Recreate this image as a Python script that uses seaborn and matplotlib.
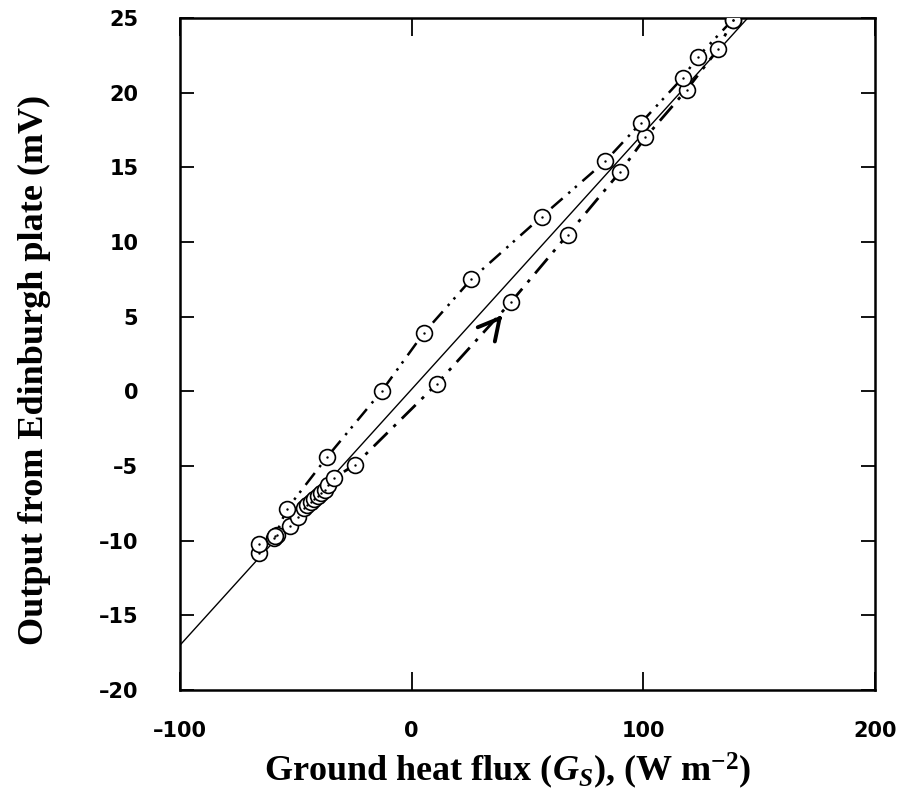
import matplotlib
matplotlib.use("Agg")
import matplotlib.pyplot as plt
import seaborn as sns
import numpy as np
import pandas as pd

# ---- data ----
# rising branch (dashed, with arrow)
rise_x = [-66.0, -59.5, -58.0, -52.5, -49.0, -46.5, -45.0, -43.5, -42.0, -40.5,
          -39.0, -37.5, -36.0, -33.5, -24.3, 10.9, 43.0, 67.4, 90.0, 100.9,
          118.7, 132.2, 138.7]
rise_y = [-10.8, -9.8, -9.6, -9.0, -8.4, -7.8, -7.6, -7.4, -7.2, -7.0,
          -6.8, -6.6, -6.3, -5.8, -4.9, 0.5, 6.0, 10.5, 14.7, 17.0,
          20.2, 22.9, 24.9]
# falling branch (dash-dot)
fall_x = [138.7, 123.5, 117.0, 99.1, 83.5, 56.1, 25.7, 5.2, -13.0, -36.5,
          -53.9, -59.0, -65.7]
fall_y = [24.9, 22.4, 21.0, 18.0, 15.4, 11.7, 7.5, 3.9, 0.0, -4.4,
          -7.9, -9.7, -10.2]
# regression line
fit_slope = 0.1714
fit_intercept = 0.14
fit_x = [-100, 150]

xticks = [-100, 0, 100, 200]
yticks = [-20, -15, -10, -5, 0, 5, 10, 15, 20, 25]

sns.set_style("white")
plt.rcParams.update({
    "text.color": "black",
    "axes.labelcolor": "black",
    "xtick.color": "black",
    "ytick.color": "black",
    "mathtext.fontset": "custom",
    "mathtext.rm": "Liberation Serif:bold",
    "mathtext.bf": "Liberation Serif:bold",
    "mathtext.it": "Liberation Serif:italic:bold",
})

fig = plt.figure(figsize=(8.99, 8.01), dpi=100)
ax = fig.add_axes([0.2002, 0.1386, 0.7731, 0.8389])

fit_df = pd.DataFrame({"x": fit_x, "y": [fit_slope * v + fit_intercept for v in fit_x]})
sns.lineplot(data=fit_df, x="x", y="y", ax=ax, color="black", lw=1.0, sort=False, estimator=None)

rise_df = pd.DataFrame({"x": rise_x, "y": rise_y})
fall_df = pd.DataFrame({"x": fall_x, "y": fall_y})
sns.lineplot(data=rise_df, x="x", y="y", ax=ax, color="black", lw=2.0,
             sort=False, estimator=None, linestyle=(0, (7, 3, 1.2, 3)))
sns.lineplot(data=fall_df, x="x", y="y", ax=ax, color="black", lw=1.8,
             sort=False, estimator=None, linestyle=(0, (6, 3, 1, 2.5, 1, 3)))

for df in (rise_df, fall_df):
    sns.scatterplot(data=df, x="x", y="y", ax=ax, s=130, marker="o",
                    facecolor="white", edgecolor="black", linewidth=1.2, zorder=5)
    sns.scatterplot(data=df, x="x", y="y", ax=ax, s=3, marker="o",
                    color="black", linewidth=0, zorder=6)

# direction arrow (open chevron) on the rising branch
ax.annotate("", xy=(39.1, 5.1), xytext=(37.6, 4.82),
            arrowprops=dict(arrowstyle="->,head_length=1.5,head_width=0.8",
                            color="black", lw=2.8, shrinkA=0, shrinkB=0),
            zorder=7)

ax.set_xlim(-100, 200)
ax.set_ylim(-20, 25)
ax.set_xticks(xticks)
ax.set_yticks(yticks)
tick_font = dict(family="DejaVu Sans", weight="bold", size=15)
ax.set_xticklabels([str(v).replace("-", "\u2013") for v in xticks], fontdict=tick_font)
ax.set_yticklabels([str(v).replace("-", "\u2013") for v in yticks], fontdict=tick_font)
ax.tick_params(axis="x", which="both", direction="in", length=13, width=1.3,
               top=True, bottom=True, pad=22)
ax.tick_params(axis="y", which="both", direction="in", length=10, width=1.3,
               left=True, right=True, pad=30)
for sp in ax.spines.values():
    sp.set_visible(True)
    sp.set_color("black")
    sp.set_linewidth(1.8)

label_font = dict(family="Liberation Serif", weight="bold", size=26)
ax.set_xlabel(r"Ground heat flux ($G_S$), (W m$^{-2}$)", fontdict=label_font)
ax.set_ylabel("Output from Edinburgh plate (mV)", fontdict=label_font)
ax.xaxis.set_label_coords(0.472, -0.090)
ax.yaxis.set_label_coords(-0.185, 0.476)

fig.savefig("out.png", dpi=100)
